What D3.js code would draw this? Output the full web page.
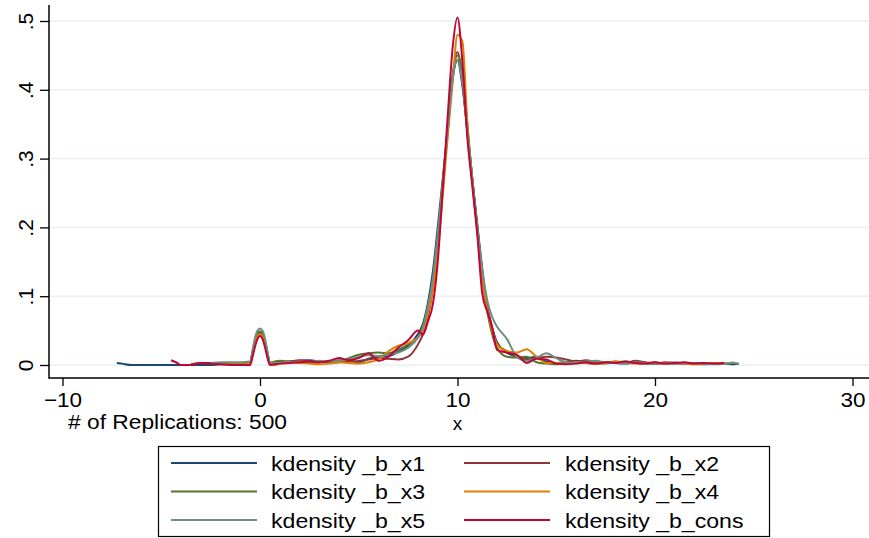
<!DOCTYPE html>
<html>
<head>
<meta charset="utf-8">
<script src="https://cdn.jsdelivr.net/npm/d3@7"></script>
<style>
  html, body { margin: 0; padding: 0; background: #ffffff; }
  svg { display: block; font-family: "Liberation Sans", Arial, sans-serif; }
</style>
</head>
<body>
<svg id="chart" width="869" height="538"></svg>
<script>
// ---- data ----
const xGrid = [
  -7.25, -7, -6.5, -6, -5.5, -5, -4.5, -4.25, -4, -3.5, -3, -2.5, -2, -1.5, -1,
  -0.5, -0.375, -0.25, -0.125, 0, 0.125, 0.25, 0.375, 0.5,
  0.75, 1, 1.5, 2, 2.5, 3, 3.5, 4, 4.5, 5, 5.5, 6, 6.5, 7, 7.5,
  8, 8.25, 8.5, 8.75, 9, 9.25, 9.5, 9.75, 10, 10.25, 10.5, 10.75, 11, 11.25, 11.5, 11.75, 12,
  12.5, 13, 13.5, 14, 14.5, 15, 15.5, 16, 16.5, 17, 17.5, 18, 18.5, 19, 19.5, 20, 20.5, 21, 21.5, 22, 22.5, 23, 23.5, 24, 24.25
];
const b_x1 = [
  0.003, 0.002, 0, 0, 0, 0, 0, 0, 0, 0, 0, 0, 0.001, 0.001, 0.001,
  0.002, 0.018, 0.034, 0.044, 0.047, 0.044, 0.033, 0.017, 0.003,
  0.003, 0.004, 0.005, 0.006, 0.007, 0.005, 0.003, 0.004, 0.006, 0.004, 0.009, 0.012, 0.013, 0.019, 0.028,
  0.045, 0.06, 0.09, 0.135, 0.2, 0.27, 0.34, 0.415, 0.443, 0.405, 0.34, 0.27, 0.205, 0.14, 0.085, 0.055, 0.033,
  0.018, 0.012, 0.01, 0.012, 0.005, 0.003, 0.004, 0.006, 0.003, 0.002, 0.004, 0.003, 0.002, 0.004, 0.003, 0.002, 0.003, 0.002, 0.003, 0.002, 0.001, 0.002, 0.002, 0.001, 0.002
];
const b_x2 = [
  null, null, null, null, null, null, null, null, null, 0.001, 0.003, 0.003, 0.002, 0.002, 0.002,
  0.003, 0.018, 0.032, 0.042, 0.045, 0.042, 0.031, 0.016, 0.003,
  0.002, 0.003, 0.005, 0.007, 0.006, 0.004, 0.005, 0.007, 0.005, 0.006, 0.008, 0.01, 0.009, 0.008, 0.012,
  0.03, 0.045, 0.07, 0.11, 0.17, 0.255, 0.34, 0.42, 0.455, 0.41, 0.34, 0.27, 0.2, 0.135, 0.085, 0.055, 0.03,
  0.02, 0.012, 0.008, 0.01, 0.012, 0.011, 0.008, 0.005, 0.007, 0.004, 0.003, 0.005, 0.003, 0.006, 0.004, 0.002, 0.004, 0.003, 0.002, 0.003, 0.002, null, null, null, null
];
const b_x3 = [
  null, null, null, null, null, null, null, null, null, null, null, 0.002, 0.002, 0.003, 0.003,
  0.004, 0.02, 0.036, 0.046, 0.049, 0.046, 0.035, 0.018, 0.003,
  0.005, 0.006, 0.005, 0.004, 0.003, 0.004, 0.006, 0.005, 0.01, 0.015, 0.017, 0.018, 0.017, 0.022, 0.03,
  0.04, 0.055, 0.08, 0.115, 0.175, 0.26, 0.345, 0.42, 0.45, 0.425, 0.35, 0.27, 0.2, 0.13, 0.08, 0.045, 0.025,
  0.012, 0.011, 0.012, 0.004, 0.002, 0.001, 0.002, 0.004, 0.005, 0.003, 0.002, 0.004, 0.005, 0.003, 0.002, 0.003, 0.002, 0.003, 0.002, null, null, null, null, null, null
];
const b_x4 = [
  null, null, null, null, null, null, null, null, null, null, null, null, 0.001, 0.001, 0.001,
  0.002, 0.018, 0.033, 0.042, 0.045, 0.041, 0.03, 0.014, 0.001,
  0.0, 0.002, 0.004, 0.003, 0.002, 0.001, 0.002, 0.004, 0.003, 0.002, 0.004, 0.008, 0.02, 0.028, 0.032,
  0.04, 0.05, 0.075, 0.11, 0.165, 0.245, 0.33, 0.41, 0.48, 0.47, 0.35, 0.265, 0.195, 0.125, 0.08, 0.05, 0.03,
  0.02, 0.018, 0.023, 0.012, 0.003, 0.003, 0.002, 0.004, 0.003, 0.002, 0.003, 0.005, 0.003, 0.002, 0.003, 0.004, 0.002, 0.003, 0.002, 0.001, 0.002, 0.003, 0.002, 0.004, null
];
const b_x5 = [
  null, null, null, null, null, null, null, null, null, null, null, 0.003, 0.004, 0.004, 0.004,
  0.005, 0.022, 0.04, 0.05, 0.053, 0.05, 0.039, 0.02, 0.004,
  0.003, 0.003, 0.004, 0.005, 0.004, 0.006, 0.005, 0.007, 0.008, 0.012, 0.014, 0.013, 0.015, 0.018, 0.025,
  0.04, 0.055, 0.085, 0.125, 0.19, 0.265, 0.34, 0.415, 0.444, 0.41, 0.34, 0.27, 0.2, 0.14, 0.095, 0.07, 0.056,
  0.038, 0.012, 0.006, 0.01, 0.017, 0.01, 0.004, 0.003, 0.005, 0.006, 0.004, 0.003, 0.002, 0.004, 0.003, 0.002, 0.003, 0.004, 0.002, 0.003, 0.002, 0.001, 0.002, 0.003, 0.002
];
const b_cons = [
  null, null, null, null, null, null, 0.007, 0.004, 0, 0, 0.003, 0.002, 0.001, 0, 0,
  0, 0.012, 0.027, 0.038, 0.042, 0.038, 0.026, 0.011, 0,
  0.001, 0.002, 0.003, 0.004, 0.005, 0.004, 0.006, 0.01, 0.007, 0.01, 0.017, 0.006, 0.012, 0.025, 0.036,
  0.05, 0.044, 0.063, 0.088, 0.15, 0.255, 0.36, 0.46, 0.505, 0.44, 0.33, 0.26, 0.19, 0.105, 0.078, 0.055, 0.022,
  0.018, 0.015, 0.003, 0.009, 0.008, 0.002, 0.001, 0.002, 0.004, 0.002, 0.004, 0.003, 0.005, 0.003, 0.002, 0.004, 0.002, 0.003, 0.004, 0.002, 0.003, 0.002, 0.003, null, null
];
const seriesNames = ["kdensity _b_x1", "kdensity _b_x2", "kdensity _b_x3", "kdensity _b_x4", "kdensity _b_x5", "kdensity _b_cons"];
const seriesColors = ["#1a476f", "#90353b", "#55752f", "#e37e00", "#6e8e84", "#c10534"];
const xTicks = [-10, 0, 10, 20, 30];
const yTicks = [0, 0.1, 0.2, 0.3, 0.4, 0.5];
const yTickLabels = ["0", ".1", ".2", ".3", ".4", ".5"];
const xTitle = "x";
const noteText = "# of Replications: 500";

// ---- drawing ----
const series = [b_x1, b_x2, b_x3, b_x4, b_x5, b_cons];
const svg = d3.select("#chart");
svg.append("rect").attr("width", 869).attr("height", 538).attr("fill", "#ffffff");

// widen text horizontally a little (reference glyphs are wider than Liberation Sans)
function stretch(sel, k) {
  sel.each(function () {
    const w = this.getComputedTextLength();
    d3.select(this).attr("textLength", w * k).attr("lengthAdjust", "spacingAndGlyphs");
  });
}

const x = d3.scaleLinear().domain([-10, 30]).range([62.5, 852.5]);
const y = d3.scaleLinear().domain([0, 0.5]).range([365, 21]);
const axisLeftX = 49, axisBottomY = 378;

// gridlines
svg.append("g").selectAll("line").data(yTicks).join("line")
  .attr("x1", axisLeftX + 1).attr("x2", 869)
  .attr("y1", d => y(d)).attr("y2", d => y(d))
  .attr("stroke", "#e9f0f2").attr("stroke-width", 1.5);

// curves
const line = d3.line()
  .defined(d => d[1] !== null)
  .x(d => x(d[0])).y(d => y(d[1]))
  .curve(d3.curveMonotoneX);
svg.append("g").selectAll("path").data(series).join("path")
  .attr("d", s => line(xGrid.map((xv, i) => [xv, s[i]])))
  .attr("fill", "none")
  .attr("stroke", (s, i) => seriesColors[i])
  .attr("stroke-width", 2)
  .attr("stroke-linejoin", "round");

// y axis
const yAxis = d3.axisLeft(y).tickValues(yTicks).tickFormat((d, i) => yTickLabels[i]).tickSize(9).tickPadding(0);
const gy = svg.append("g").attr("transform", `translate(${axisLeftX},0)`).call(yAxis);
gy.select(".domain").remove();
gy.selectAll(".tick line").attr("stroke", "#000").attr("stroke-width", 1.3);
gy.selectAll(".tick text").remove();
gy.selectAll(".tick").append("text")
  .attr("transform", "translate(-16,0) rotate(-90)")
  .attr("text-anchor", "middle")
  .attr("fill", "#000")
  .attr("font-size", 21)
  .text((d, i) => yTickLabels[i]);
svg.append("line").attr("x1", axisLeftX).attr("x2", axisLeftX).attr("y1", 5).attr("y2", axisBottomY + 0.7)
  .attr("stroke", "#000").attr("stroke-width", 1.5);

// x axis
const xAxis = d3.axisBottom(x).tickValues(xTicks).tickFormat(d3.format("d")).tickSize(8).tickPadding(6);
const gx = svg.append("g").attr("transform", `translate(0,${axisBottomY})`).call(xAxis);
gx.select(".domain").remove();
gx.selectAll(".tick line").attr("stroke", "#000").attr("stroke-width", 1.3);
gx.selectAll(".tick text").attr("fill", "#000").attr("font-size", 21).attr("font-family", "Liberation Sans, Arial, sans-serif");
stretch(gx.selectAll(".tick text"), 1.07);
svg.append("line").attr("x1", axisLeftX).attr("x2", 869).attr("y1", axisBottomY).attr("y2", axisBottomY)
  .attr("stroke", "#000").attr("stroke-width", 1.5);

// note & title
svg.append("text").attr("x", 68).attr("y", 429).attr("font-size", 20).attr("fill", "#000")
  .attr("textLength", 219).attr("lengthAdjust", "spacingAndGlyphs").text(noteText);
svg.append("text").attr("x", x(10)).attr("y", 430).attr("text-anchor", "middle").attr("font-size", 19).attr("fill", "#000").text(xTitle);

// legend
const lg = svg.append("g");
lg.append("rect").attr("x", 158.5).attr("y", 446.5).attr("width", 611).attr("height", 90)
  .attr("fill", "#fff").attr("stroke", "#000").attr("stroke-width", 1.2);
const rowY = [463, 491.5, 520];
const colLineX = [171, 464];
const colTextX = [271, 565];
seriesNames.forEach((name, i) => {
  const c = i % 2, r = Math.floor(i / 2);
  lg.append("line").attr("x1", colLineX[c]).attr("x2", colLineX[c] + 86)
    .attr("y1", rowY[r]).attr("y2", rowY[r])
    .attr("stroke", seriesColors[i]).attr("stroke-width", 2);
  const t = lg.append("text").attr("x", colTextX[c]).attr("y", rowY[r] + 7.5)
    .attr("font-size", 21).attr("fill", "#000").text(name);
  stretch(t, 1.1);
});
</script>
</body>
</html>
